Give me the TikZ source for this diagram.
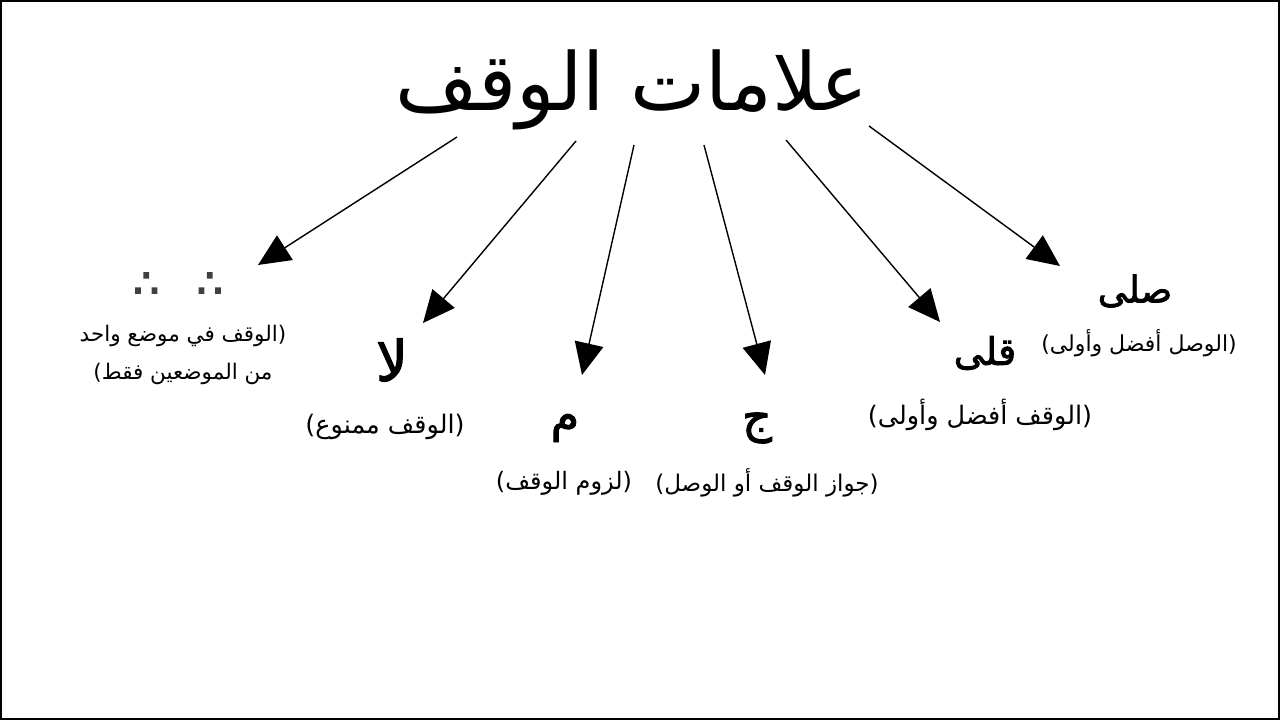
\documentclass[tikz,border=0pt]{standalone}
\usepackage{fontspec}
\usetikzlibrary{arrows.meta}
\TeXXeTstate=1
\newfontfamily\arabicfont[Script=Arabic]{DejaVu Sans}
\newfontfamily\arabicbold[Script=Arabic,FakeBold=2]{DejaVu Sans}
\newfontfamily\symfont[FakeBold=4]{DejaVu Sans}
\tikzset{
  arr/.style={line width=1.4pt, -{Triangle[length=32pt,width=29pt]}},
  lbl/.style={inner sep=0pt, align=center},
  sign/.style={inner sep=0pt},
}
\newcommand{\lblfont}[1]{\arabicfont\fontsize{#1}{38}\selectfont}
\newcommand{\signfont}[1]{\arabicbold\fontsize{#1}{60}\selectfont}
\begin{document}
\begin{tikzpicture}[x=1pt,y=-1pt]
\useasboundingbox (0,0) rectangle (1280,720);
\fill[white] (0,0) rectangle (1280,720);
\draw[line width=2pt] (1,1) rectangle (1279,719);

\node[inner sep=0pt, font=\arabicfont\fontsize{80}{82}\selectfont] (title) at (632,90) {\beginR علامات الوقف\endR};

% marks
\node[sign, font=\symfont\fontsize{40}{42}\selectfont, text=black!75] (m1) at (178,285) {∴\hspace{38pt}∴};
\node[lbl, font=\lblfont{21.5}] (l1) at (183,355) {\beginR(الوقف في موضع واحد\endR\\\beginR من الموضعين فقط)\endR};

\node[sign, font=\signfont{56}] (m2) at (392,360) {\beginR لا\endR};
\node[lbl, font=\lblfont{25.5}] (l2) at (385,427) {\beginR(الوقف ممنوع)\endR};

\node[sign, font=\signfont{46}] (m3) at (565,428) {\beginR م\endR};
\node[lbl, font=\lblfont{24}] (l3) at (564,483) {\beginR(لزوم الوقف)\endR};

\node[sign, font=\signfont{46}] (m4) at (757,428) {\beginR ج\endR};
\node[lbl, font=\lblfont{23}] (l4) at (767,483) {\beginR(جواز الوقف أو الوصل)\endR};

\node[sign, font=\signfont{38}] (m5) at (985,353) {\beginR قلى\endR};
\node[lbl, font=\lblfont{25.5}] (l5) at (980,415) {\beginR(الوقف أفضل وأولى)\endR};

\node[sign, font=\signfont{37}] (m6) at (1135,291) {\beginR صلى\endR};
\node[lbl, font=\lblfont{22}] (l6) at (1139,343) {\beginR(الوصل أفضل وأولى)\endR};

% arrow coordinates
\coordinate (s1) at (457,137); \coordinate (e1) at (258,265);
\coordinate (s2) at (576,141); \coordinate (e2) at (423,323);
\coordinate (s3) at (634,145); \coordinate (e3) at (582,375);
\coordinate (s4) at (704,145); \coordinate (e4) at (765,375);
\coordinate (s5) at (786,140); \coordinate (e5) at (940,322);
\coordinate (s6) at (869,126); \coordinate (e6) at (1060,266);
\foreach \i in {1,...,6} { \draw[arr] (s\i) -- (e\i); }
\end{tikzpicture}
\end{document}
